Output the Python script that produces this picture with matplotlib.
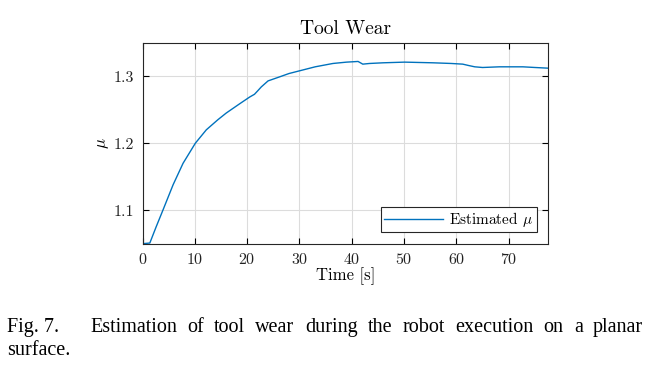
import numpy as np
import matplotlib.pyplot as plt

plt.rcParams["font.family"] = ["cmr10", "DejaVu Serif"]
plt.rcParams["mathtext.fontset"] = "cm"
plt.rcParams["axes.formatter.use_mathtext"] = True

# values
time_s = [0.0, 1.4, 2.6, 3.9, 5.85, 7.75, 10.1, 12.2, 14.4, 16.0, 18.6, 20.5,
          21.4, 22.0, 22.7, 24.0, 26.2, 28.0, 30.0, 33.0, 36.4, 39.0, 41.2,
          42.1, 43.4, 46.0, 50.1, 55.5, 59.0, 61.2, 62.3, 63.5, 65.0, 68.2,
          70.5, 72.7, 75.0, 77.5]
mu_est = [1.050, 1.051, 1.075, 1.100, 1.138, 1.170, 1.200, 1.220, 1.235, 1.245,
          1.259, 1.269, 1.273, 1.278, 1.284, 1.293, 1.299, 1.304, 1.308, 1.314,
          1.319, 1.321, 1.322, 1.318, 1.319, 1.320, 1.321, 1.320, 1.319, 1.318,
          1.316, 1.314, 1.313, 1.314, 1.314, 1.314, 1.313, 1.312]

x_ticks = [0, 10, 20, 30, 40, 50, 60, 70]
y_ticks = [1.1, 1.2, 1.3]

caption_head = "Fig. 7."
caption_1 = "Estimation of tool wear during the robot execution on a planar"
caption_2 = "surface."

fig = plt.figure(figsize=(6.58, 3.72), dpi=100)
ax = fig.add_axes([142.5 / 658, 1 - 243.7 / 372, 405.5 / 658, 201 / 372])

ax.plot(time_s, mu_est, color="#0072BD", lw=1.0, label=r"Estimated $\mu$")
ax.set_xlim(0, 77.5)
ax.set_ylim(1.05, 1.35)
ax.set_xticks(x_ticks)
ax.set_yticks(y_ticks)
ax.set_yticklabels([f"{v:.1f}" for v in y_ticks])
ax.grid(True, color="#dcdcdc", lw=0.8)
ax.set_axisbelow(True)
ax.tick_params(direction="in", top=True, right=True, length=4, width=0.8,
               labelsize=11.5, pad=6, labelcolor="#222222")
for sp in ax.spines.values():
    sp.set_linewidth(0.8)
    sp.set_color("#262626")

ax.set_title("Tool Wear", fontsize=14, pad=6)
ax.set_xlabel("Time [s]", fontsize=12, labelpad=0)
ax.set_ylabel(r"$\mu$", fontsize=12, labelpad=2)

leg = ax.legend(loc="lower right", fontsize=11, fancybox=False, framealpha=1,
                edgecolor="#262626", handlelength=3.9, handletextpad=0.4,
                borderpad=0.2, borderaxespad=0.75)
leg.get_frame().set_linewidth(0.8)

# caption in Times, justified across the page width like the paper
cap_font = dict(fontsize=14.5, family="Liberation Serif", va="baseline")
renderer = fig.canvas.get_renderer()
fig.text(7 / 658, 1 - 332 / 372, caption_head, **cap_font)
words = caption_1.split()
widths = []
for w in words:
    t = fig.text(0, 0, w, **cap_font)
    widths.append(t.get_window_extent(renderer).width)
    t.remove()
x0, x1 = 90.0, 643.0
gap = (x1 - x0 - sum(widths)) / (len(words) - 1)
x = x0
for w, wd in zip(words, widths):
    fig.text(x / 658, 1 - 332 / 372, w, **cap_font)
    x += wd + gap
fig.text(7 / 658, 1 - 355 / 372, caption_2, **cap_font)

fig.savefig("out.png", dpi=100)
